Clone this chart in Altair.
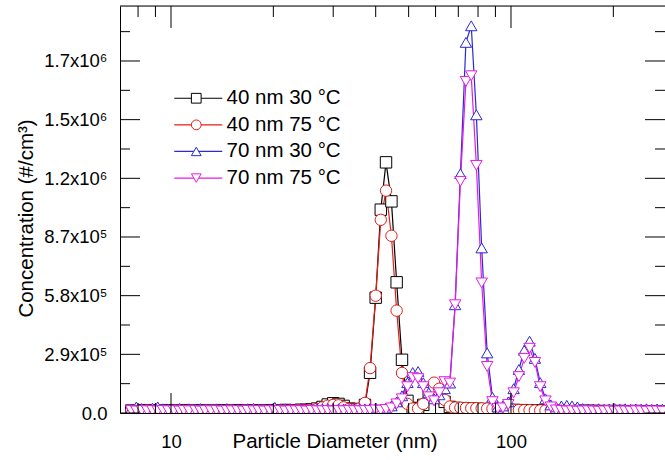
import altair as alt
import pandas as pd

# SMPS channel mid-point diameters (nm)
diameter_nm = [7.64, 7.91, 8.20, 8.51, 8.82, 9.14, 9.47, 9.82, 10.2, 10.6,
               10.9, 11.3, 11.8, 12.2, 12.6, 13.1, 13.6, 14.1, 14.6, 15.1,
               15.7, 16.3, 16.8, 17.5, 18.1, 18.8, 19.5, 20.2, 20.9, 21.7,
               22.5, 23.3, 24.1, 25.0, 25.9, 26.9, 27.9, 28.9, 30.0, 31.1,
               32.2, 33.4, 34.6, 35.9, 37.2, 38.5, 40.0, 41.4, 42.9, 44.5,
               46.1, 47.8, 49.6, 51.4, 53.3, 55.2, 57.3, 59.4, 61.5, 63.8,
               66.1, 68.5, 71.0, 73.7, 76.4, 79.1, 82.0, 85.1, 88.2, 91.4,
               94.7, 98.2, 101.8, 105.5, 109.4, 113.4, 117.6, 121.9, 126.3, 131.0,
               135.8, 140.7, 145.9, 151.2, 156.8, 162.5, 168.5, 174.7, 181.1, 187.7,
               194.6, 201.7, 209.1, 216.7, 224.7, 232.9, 241.4, 250.3, 259.5, 269.0,
               278.8]

# Concentrations in thousands of #/cm3
conc_40nm_30C = [12, 10, 14, 11, 13, 12, 10, 13, 11, 12,
                 14, 10, 12, 13, 11, 12, 10, 13, 12, 11,
                 14, 12, 10, 13, 11, 12, 14, 13, 12, 15,
                 13, 14, 16, 15, 18, 22, 30, 42, 48, 45,
                 35, 22, 18, 20, 40, 199, 570, 1005, 1239, 1046,
                 646, 263, 60, 25, 22, 40, 95, 125, 110, 55,
                 30, 25, 24, 22, 22, 20, 20, 18, 18, 17,
                 16, 15, 15, 14, 14, 13, 13, 12, 12, 12,
                 11, 11, 12, 10, 11, 10, 11, 10, 10, 9,
                 10, 9, 10, 9, 9, 10, 8, 9, 8, 9,
                 8]
conc_40nm_75C = [10, 12, 11, 13, 10, 12, 11, 10, 13, 12,
                 11, 12, 10, 11, 13, 12, 11, 10, 12, 13,
                 11, 12, 10, 12, 11, 13, 12, 11, 13, 12,
                 14, 13, 15, 14, 16, 20, 28, 36, 40, 38,
                 28, 20, 18, 22, 50, 222, 580, 955, 1099, 876,
                 506, 198, 45, 22, 22, 45, 110, 150, 120, 65,
                 32, 27, 26, 25, 24, 24, 23, 22, 21, 20,
                 19, 18, 16, 15, 14, 14, 13, 13, 12, 12,
                 11, 11, 10, 11, 10, 10, 9, 10, 9, 9,
                 10, 8, 9, 8, 9, 8, 8, 9, 8, 8,
                 8]
conc_70nm_30C = [20, 30, 22, 17, 24, 30, 21, 18, 20, 23,
                 17, 21, 19, 22, 18, 20, 21, 17, 22, 19,
                 20, 18, 21, 23, 19, 20, 18, 28, 19, 21,
                 20, 18, 22, 20, 19, 21, 20, 22, 19, 21,
                 20, 18, 20, 22, 20, 22, 25, 20, 25, 35,
                 55, 85, 150, 200, 205, 150, 100, 70, 90, 120,
                 148, 535, 1183, 1832, 1914, 1474, 816, 297, 78, 30,
                 35, 55, 120, 215, 310, 355, 270, 150, 70, 40,
                 30, 35, 38, 35, 30, 22, 20, 19, 21, 18,
                 20, 22, 19, 21, 18, 20, 19, 21, 18, 20,
                 19]
conc_70nm_75C = [12, 10, 13, 11, 12, 10, 13, 11, 12, 10,
                 13, 11, 12, 10, 12, 11, 13, 10, 12, 11,
                 12, 10, 13, 11, 12, 10, 12, 11, 13, 10,
                 12, 11, 12, 10, 13, 11, 11, 12, 10, 12,
                 11, 13, 12, 11, 12, 13, 15, 14, 18, 25,
                 45, 70, 130, 175, 170, 130, 80, 60, 100, 155,
                 148, 535, 1145, 1639, 1667, 1224, 643, 230, 56, 22,
                 25, 42, 100, 180, 270, 320, 250, 130, 60, 30,
                 15, 12, 10, 11, 9, 10, 11, 10, 9, 10,
                 11, 9, 10, 10, 9, 11, 10, 9, 10, 10,
                 9]

series_names = ["40 nm 30 °C", "40 nm 75 °C", "70 nm 30 °C", "70 nm 75 °C"]
series_colors = ["#000000", "#e41e1a", "#2a2ad0", "#e619e6"]
series_shapes = ["square", "circle", "triangle-up", "triangle-down"]

y_major = [0, 290000, 580000, 870000, 1160000, 1450000, 1740000]
y_major_labels = ["0.0", "2.9x10⁵", "5.8x10⁵", "8.7x10⁵", "1.2x10⁶", "1.5x10⁶", "1.7x10⁶"]
y_minor = [145000, 435000, 725000, 1015000, 1305000, 1595000, 1885000]
x_major = [10, 100]
x_minor = [8, 9, 20, 30, 40, 50, 60, 70, 80, 90, 200]

rows = []
for name, vals in zip(series_names, [conc_40nm_30C, conc_40nm_75C, conc_70nm_30C, conc_70nm_75C]):
    assert len(vals) == len(diameter_nm)
    for d, v in zip(diameter_nm, vals):
        rows.append({"d": d, "c": v * 1000, "series": name, "line_series": name + " "})
df = pd.DataFrame(rows)

FONT = "Liberation Sans"
W, H = 545, 407

xs = alt.Scale(type="log", domain=[7.079, 283.8], nice=False)
ys = alt.Scale(domain=[0, 2011800], nice=False, zero=False)

label_expr = " : ".join(
    f"datum.value == {v} ? '{l}'" for v, l in zip(y_major[:-1], y_major_labels[:-1])
) + f" : '{y_major_labels[-1]}'"

xaxis = alt.Axis(values=x_major, format="d", title="Particle Diameter (nm)", grid=False,
                 ticks=False, tickSize=0, domain=True, domainColor="black", domainWidth=1,
                 labelFontSize=18.5, labelFont=FONT, labelColor="black", labelPadding=34,
                 labelBaseline="alphabetic", labelFlush=False, labelOverlap=False,
                 titleFontSize=20.5, titleFont=FONT, titleFontWeight="normal", titleColor="black",
                 titleX=112, titleY=34, titleAlign="left", titleBaseline="alphabetic")
yaxis = alt.Axis(values=y_major, labelExpr=label_expr, title="Concentration (#/cm³)", grid=False,
                 ticks=False, tickSize=0, domain=True, domainColor="black", domainWidth=1,
                 labelFontSize=18.5, labelFont=FONT, labelColor="black", labelPadding=13,
                 labelBaseline="middle", labelAlign="right", labelFlush=False, labelOverlap=False,
                 titleFontSize=20.5, titleFont=FONT, titleFontWeight="normal", titleColor="black",
                 titleX=-88, titleY=212, titleAngle=270, titleAlign="center", titleBaseline="alphabetic")

LEG_FS = 20.5
LEG_ROWPAD = 5.6
LEG_Y = 82
leg_line = alt.Legend(title=None, orient="none", legendX=68, legendY=LEG_Y,
                      symbolType="M-4.8,0L4.8,0", symbolSize=100, symbolStrokeWidth=1.2,
                      labelExpr="' '", labelFontSize=LEG_FS, labelFont=FONT,
                      rowPadding=LEG_ROWPAD, padding=0, zindex=0)
leg_sym = alt.Legend(title=None, orient="none", legendX=66, legendY=LEG_Y, symbolSize=95,
                     symbolStrokeWidth=1, symbolFillColor="white", symbolOpacity=1,
                     labelFontSize=LEG_FS, labelFont=FONT, labelColor="black", labelOffset=20,
                     rowPadding=LEG_ROWPAD, padding=0, zindex=1, labelLimit=300)

lines = alt.Chart(df).mark_line(strokeWidth=1.2, clip=True).encode(
    x=alt.X("d:Q", scale=xs, axis=xaxis),
    y=alt.Y("c:Q", scale=ys, axis=yaxis),
    color=alt.Color("line_series:N",
                    scale=alt.Scale(domain=[n + " " for n in series_names], range=series_colors),
                    legend=leg_line),
)

points = alt.Chart(df).mark_point(filled=False, fill="white", fillOpacity=1, opacity=1,
                                  strokeWidth=1, size=130, clip=True).encode(
    x=alt.X("d:Q", scale=xs, axis=xaxis),
    y=alt.Y("c:Q", scale=ys, axis=yaxis),
    stroke=alt.Stroke("series:N", scale=alt.Scale(domain=series_names, range=series_colors),
                      legend=leg_sym),
    shape=alt.Shape("series:N", scale=alt.Scale(domain=series_names, range=series_shapes),
                    legend=leg_sym),
)

def yticks(vals, x0, x1):
    return alt.Chart(pd.DataFrame({"v": vals})).mark_rule(color="black", strokeWidth=1).encode(
        y=alt.Y("v:Q", scale=ys, axis=yaxis), x=alt.value(x0), x2=alt.value(x1))

def xticks(vals, y0, y1):
    return alt.Chart(pd.DataFrame({"v": vals})).mark_rule(color="black", strokeWidth=1).encode(
        x=alt.X("v:Q", scale=xs, axis=xaxis), y=alt.value(y0), y2=alt.value(y1))

top_border = alt.Chart(pd.DataFrame({"v": [0]})).mark_rule(color="black", strokeWidth=1).encode(
    x=alt.value(0), x2=alt.value(W), y=alt.value(0))

chart = alt.layer(
    lines, points,
    yticks(y_major, 0, 20), yticks(y_minor, 0, 10),
    yticks(y_major, W - 20, W), yticks(y_minor, W - 10, W),
    xticks(x_major, 0, 22), xticks(x_minor, 0, 11),
    xticks(x_major, H - 20, H), xticks(x_minor, H - 10, H),
    top_border,
).resolve_scale(color="independent").properties(
    width=W, height=H,
    autosize=alt.AutoSizeParams(type="none"),
    padding={"left": 120, "top": 6, "right": 0, "bottom": 47},
).configure_view(stroke=None).configure(background="white")

chart.save("out.html", embed_options={"renderer": "svg", "actions": False})
